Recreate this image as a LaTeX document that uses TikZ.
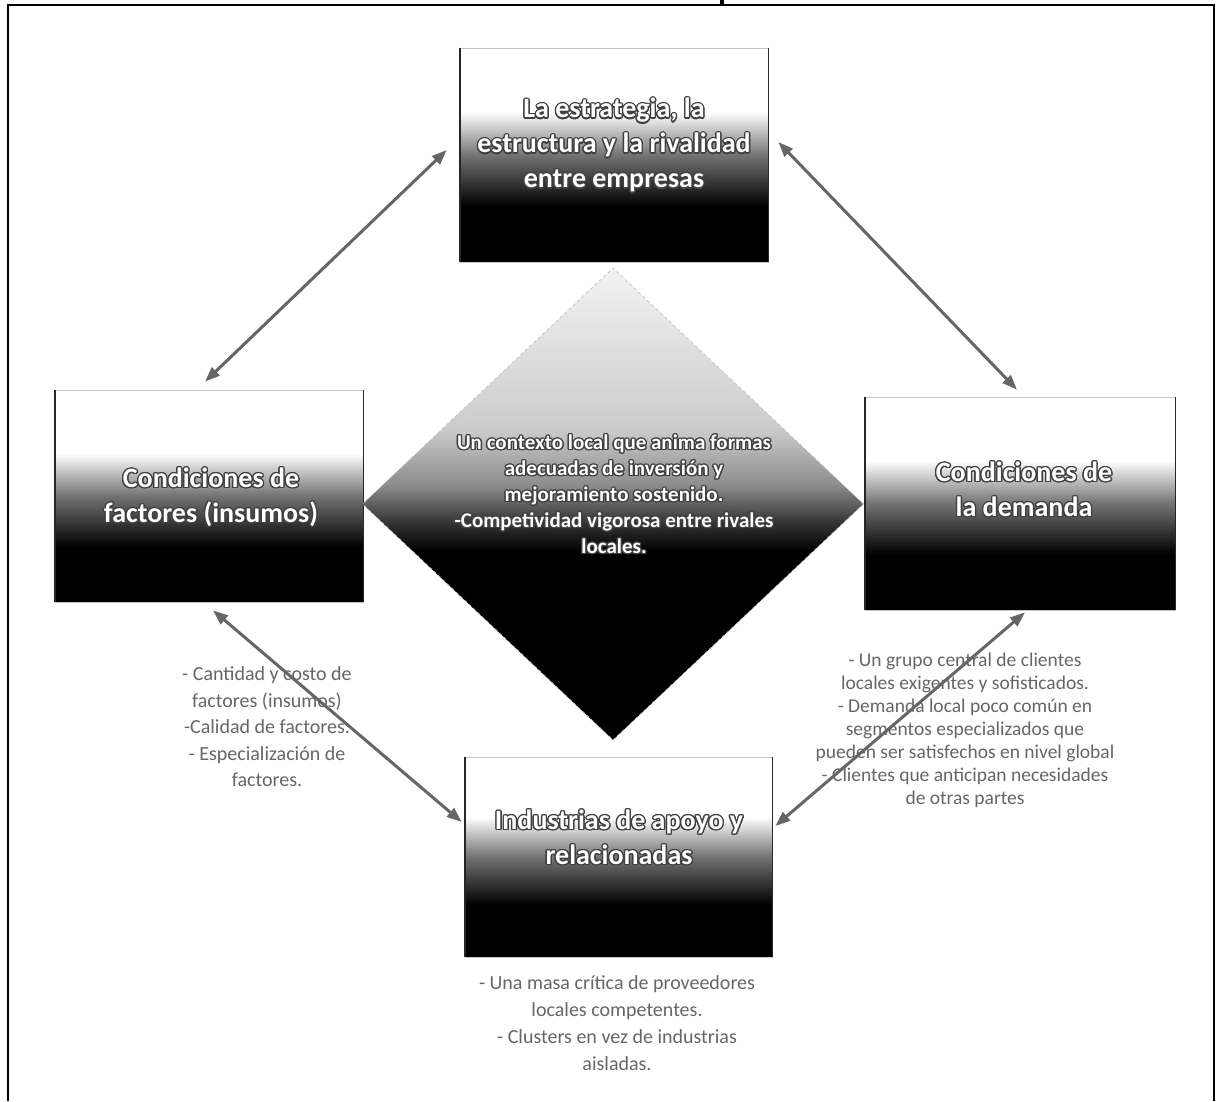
\documentclass[tikz,border=0pt]{standalone}
\usepackage{fontspec}
\setmainfont{Carlito}
\usepackage[copies]{contour}
\usetikzlibrary{shapes.geometric,arrows.meta}
\contourlength{1.3pt}

% white top fading to black at the bottom
\pgfdeclareverticalshading{boxfade}{100bp}{color(0bp)=(black); color(38bp)=(black); color(50bp)=(black!55); color(60bp)=(white); color(100bp)=(white)}
% light top half, dark lower half for the centre diamond
\pgfdeclareverticalshading{corefade}{100bp}{color(0bp)=(black); color(45bp)=(black); color(48bp)=(black!80); color(52bp)=(black!45); color(58bp)=(black!20); color(75bp)=(black!5); color(100bp)=(black!5)}

% white lettering with a dark outline
\newcommand\halo[1]{\contour{black!75}{#1}}

\begin{document}
\begin{tikzpicture}[x=1pt,y=-1pt,
  box/.style={rectangle, inner sep=0pt, shade, shading=boxfade, draw=gray!45, line width=0.6pt},
  side/.style={draw=black!85, line width=1.6pt},
  title/.style={text=white, font=\fontsize{28}{35}\selectfont\bfseries, align=center, inner sep=0pt},
  coretext/.style={text=white, font=\fontsize{21}{26}\selectfont\bfseries, align=center, inner sep=0pt},
  note/.style={text=black!60, font=\fontsize{20}{26.5}\selectfont, align=center, inner sep=0pt},
  link/.style={draw=black!60, line width=3pt, {Triangle[length=15pt,width=11pt]}-{Triangle[length=15pt,width=11pt]}},
  frame/.style={draw=black, line width=2pt}]
\useasboundingbox (0,0) rectangle (1223,1101);
\fill[white] (0,0) rectangle (1223,1101);

% outer frame (open at the bottom)
\draw[frame] (8,1101) -- (8,5) -- (1214,5) -- (1214,1101);
\fill (720,0) rectangle (724,5);

% the four determinant boxes
\node[box, minimum width=308pt, minimum height=214pt] (topbox)   at (614,155)   {};
\node[box, minimum width=308pt, minimum height=212pt] (leftbox)  at (209,496)   {};
\node[box, minimum width=310pt, minimum height=213pt] (rightbox) at (1020,503.5) {};
\node[box, minimum width=307pt, minimum height=200pt] (botbox)   at (618.5,857) {};
\foreach \b in {topbox,leftbox,rightbox,botbox}
  \draw[side] (\b.north west) -- (\b.south west) (\b.north east) -- (\b.south east);

% centre diamond
\node[diamond, minimum width=501pt, minimum height=472pt, inner sep=0pt, shade, shading=corefade,
      draw=gray!55, dashed, line width=0.6pt] (core) at (613,504) {};

% box titles
\node[title] (toptitle) at (614,146)
  {\halo{La estrategia, la}\\\halo{estructura y la rivalidad}\\\halo{entre empresas}};
\node[title] (lefttitle) at (211,498)
  {\halo{Condiciones de}\\\halo{factores (insumos)}};
\node[title] (righttitle) at (1024,490)
  {\halo{Condiciones de}\\\halo{la demanda}};
\node[title] (bottitle) at (619,838)
  {\halo{Industrias de apoyo y}\\\halo{relacionadas}};

\node[coretext] (coretitle) at (614,495)
  {\halo{Un contexto local que anima formas}\\\halo{adecuadas de inversión y}\\\halo{mejoramiento sostenido.}\\\halo{-Competividad vigorosa entre rivales}\\\halo{locales.}};

% notes under the boxes
\node[note] (leftnote) at (267,727)
  {- Cantidad y costo de\\factores (insumos)\\-Calidad de factores.\\- Especialización de\\factores.};
\node[note, font=\fontsize{19.5}{23}\selectfont] (rightnote) at (965,730)
  {- Un grupo central de clientes\\locales exigentes y sofisticados.\\- Demanda local poco común en\\segmentos especializados que\\pueden ser satisfechos en nivel global\\- Clientes que anticipan necesidades\\de otras partes};
\node[note, font=\fontsize{20}{27}\selectfont] (botnote) at (617,1023)
  {- Una masa crítica de proveedores\\locales competentes.\\- Clusters en vez de industrias\\aisladas.};

% mutual reinforcement arrows
\draw[link] ([xshift=-13pt,yshift=5pt]topbox.west) -- ([xshift=-4pt,yshift=8pt]leftbox.north);
\draw[link] ([xshift=10pt,yshift=13pt]topbox.east) -- ([xshift=-3pt,yshift=7pt]rightbox.north);
\draw[link] ([xshift=4pt,yshift=-8pt]leftbox.south) -- ([xshift=-3pt,yshift=35pt]botbox.west);
\draw[link] ([xshift=5pt,yshift=-2pt]rightbox.south) -- ([xshift=3pt,yshift=31pt]botbox.east);
\end{tikzpicture}
\end{document}
